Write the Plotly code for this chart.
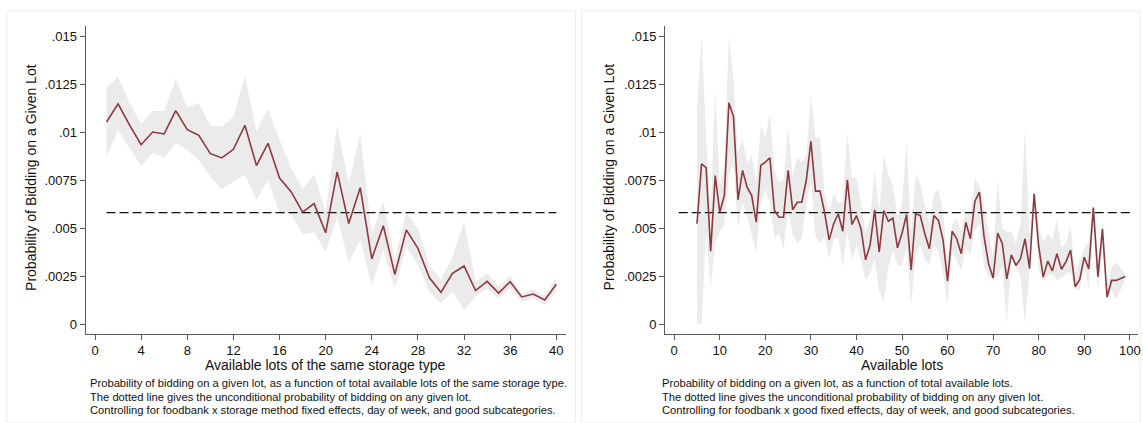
import plotly.graph_objects as go

# ---------------- data ----------------
# Left panel: available lots of the same storage type
left_x = list(range(1, 41))
left_est = [0.01052, 0.01147, 0.01036, 0.00934, 0.01000, 0.00990, 0.01111, 0.01012, 0.00983, 0.00887,
            0.00865, 0.00910, 0.01035, 0.00825, 0.00941, 0.00760, 0.00689, 0.00583, 0.00627, 0.00475,
            0.00792, 0.00523, 0.00710, 0.00339, 0.00512, 0.00259, 0.00490, 0.00394, 0.00241, 0.00165,
            0.00264, 0.00302, 0.00174, 0.00222, 0.00161, 0.00220, 0.00141, 0.00156, 0.00125, 0.00207]
left_hi = [0.01231, 0.01288, 0.01153, 0.01042, 0.01109, 0.01109, 0.01276, 0.01130, 0.01151, 0.01031,
           0.01028, 0.01080, 0.01295, 0.01003, 0.01123, 0.00958, 0.00814, 0.00705, 0.00778, 0.00585,
           0.01035, 0.00733, 0.00990, 0.00472, 0.00637, 0.00342, 0.00580, 0.00498, 0.00307, 0.00229,
           0.00350, 0.00533, 0.00220, 0.00264, 0.00194, 0.00255, 0.00156, 0.00181, 0.00146, 0.00243]
left_lo = [0.00868, 0.01010, 0.00915, 0.00823, 0.00892, 0.00866, 0.00944, 0.00906, 0.00854, 0.00767,
           0.00702, 0.00741, 0.00776, 0.00646, 0.00750, 0.00577, 0.00573, 0.00469, 0.00476, 0.00377,
           0.00559, 0.00319, 0.00438, 0.00203, 0.00385, 0.00186, 0.00403, 0.00307, 0.00168, 0.00108,
           0.00168, 0.00073, 0.00142, 0.00186, 0.00134, 0.00186, 0.00116, 0.00134, 0.00099, 0.00168]

# Right panel: available lots
right_x = list(range(5, 98)) + [99]
right_est = [0.00522, 0.00834, 0.00814, 0.00379, 0.00773, 0.00582, 0.00669, 0.01152, 0.01081, 0.00647,
             0.00800, 0.00713, 0.00669, 0.00530, 0.00826, 0.00843, 0.00866, 0.00591, 0.00556, 0.00556,
             0.00800, 0.00595, 0.00634, 0.00634, 0.00750, 0.00952, 0.00692, 0.00692, 0.00582, 0.00438,
             0.00522, 0.00574, 0.00483, 0.00751, 0.00518, 0.00565, 0.00496, 0.00334, 0.00412, 0.00595,
             0.00374, 0.00591, 0.00535, 0.00551, 0.00397, 0.00473, 0.00570, 0.00282, 0.00574, 0.00565,
             0.00470, 0.00392, 0.00565, 0.00539, 0.00438, 0.00223, 0.00483, 0.00444, 0.00366, 0.00530,
             0.00444, 0.00640, 0.00687, 0.00456, 0.00314, 0.00239, 0.00473, 0.00420, 0.00235, 0.00360,
             0.00305, 0.00340, 0.00444, 0.00289, 0.00678, 0.00405, 0.00244, 0.00328, 0.00277, 0.00366,
             0.00285, 0.00325, 0.00385, 0.00194, 0.00231, 0.00348, 0.00287, 0.00606, 0.00247, 0.00496,
             0.00140, 0.00227, 0.00227, 0.00247]
right_hi = [0.0111, 0.0150, 0.0097, 0.0060, 0.0122, 0.0072, 0.0083, 0.0150, 0.0128, 0.0089,
            0.0097, 0.0084, 0.0088, 0.0074, 0.0103, 0.0097, 0.0110, 0.0080, 0.0074, 0.0075,
            0.0102, 0.0077, 0.0087, 0.0084, 0.0088, 0.0119, 0.0097, 0.0097, 0.0068, 0.0058,
            0.0068, 0.0063, 0.0064, 0.0100, 0.0076, 0.0076, 0.0063, 0.0048, 0.0055, 0.0080,
            0.0058, 0.0088, 0.0078, 0.0072, 0.0056, 0.0063, 0.0094, 0.0048, 0.0078, 0.0073,
            0.0062, 0.0052, 0.0068, 0.0070, 0.0058, 0.0034, 0.0052, 0.0055, 0.0048, 0.0059,
            0.0057, 0.0076, 0.0072, 0.0061, 0.0048, 0.0035, 0.0075, 0.0050, 0.0048, 0.0048,
            0.0042, 0.0052, 0.0102, 0.0045, 0.0070, 0.0050, 0.0043, 0.0047, 0.0044, 0.0054,
            0.0040, 0.0042, 0.0051, 0.0027, 0.0033, 0.0039, 0.0043, 0.0062, 0.0036, 0.0050,
            0.0020, 0.0030, 0.0032, 0.0026]
right_lo = [0.0000, 0.0000, 0.0048, 0.0019, 0.0042, 0.0048, 0.0052, 0.0078, 0.0083, 0.0050,
            0.0063, 0.0056, 0.0047, 0.0037, 0.0063, 0.0070, 0.0063, 0.0045, 0.0047, 0.0039,
            0.0059, 0.0047, 0.0042, 0.0045, 0.0062, 0.0074, 0.0046, 0.0042, 0.0046, 0.0034,
            0.0044, 0.0045, 0.0030, 0.0048, 0.0033, 0.0041, 0.0033, 0.0023, 0.0026, 0.0034,
            0.0017, 0.0011, 0.0030, 0.0038, 0.0031, 0.0030, 0.0040, 0.0010, 0.0036, 0.0041,
            0.0033, 0.0031, 0.0041, 0.0038, 0.0026, 0.0010, 0.0038, 0.0033, 0.0028, 0.0040,
            0.0036, 0.0049, 0.0052, 0.0030, 0.0024, 0.0024, 0.0025, 0.0030, 0.0000, 0.0033,
            0.0030, 0.0025, 0.0000, 0.0028, 0.0062, 0.0028, 0.0022, 0.0025, 0.0026, 0.0023,
            0.0024, 0.0026, 0.0027, 0.0018, 0.0018, 0.0030, 0.0018, 0.0052, 0.0018, 0.0040,
            0.0012, 0.0018, 0.0013, 0.0023]

unconditional_prob = 0.0058
left_dash_x = [1, 40]
right_dash_x = [1, 100]

y_tickvals = [0, 0.0025, 0.005, 0.0075, 0.01, 0.0125, 0.015]
y_ticktext = ["0", ".0025", ".005", ".0075", ".01", ".0125", ".015"]
left_xticks = list(range(0, 41, 4))
right_xticks = list(range(0, 101, 10))

y_title = "Probability of Bidding on a Given Lot"
left_xtitle = "Available lots of the same storage type"
right_xtitle = "Available lots"
left_note = ["Probability of bidding on a given lot, as a function of total available lots of the same storage type.",
             "The dotted line gives the unconditional probability of bidding on any given lot.",
             "Controlling for foodbank x storage method fixed effects, day of week, and good subcategories."]
right_note = ["Probability of bidding on a given lot, as a function of total available lots.",
              "The dotted line gives the unconditional probability of bidding on any given lot.",
              "Controlling for foodbank x good fixed effects, day of week, and good subcategories."]

# ---------------- style ----------------
W, H = 1143, 423
FONT = "Liberation Sans, Arial, Helvetica, sans-serif"
LINE_COLOR = "#8c3a3e"
BAND_COLOR = "#ebebeb"
AXIS_COLOR = "#5a5a5a"

fig = go.Figure()

def add_panel(xs, est, hi, lo, dash_x, xa, ya):
    fig.add_trace(go.Scatter(x=xs + xs[::-1], y=hi + lo[::-1], fill="toself",
                             fillcolor=BAND_COLOR, line=dict(width=0), mode="lines",
                             hoverinfo="skip", showlegend=False, xaxis=xa, yaxis=ya))
    fig.add_trace(go.Scatter(x=dash_x, y=[unconditional_prob] * len(dash_x), mode="lines",
                             line=dict(color="#111111", width=1.4, dash="9px,4px"),
                             showlegend=False, xaxis=xa, yaxis=ya))
    fig.add_trace(go.Scatter(x=xs, y=est, mode="lines", line=dict(color=LINE_COLOR, width=1.6),
                             showlegend=False, xaxis=xa, yaxis=ya))

add_panel(left_x, left_est, left_hi, left_lo, left_dash_x, "x", "y")
add_panel(right_x, right_est, right_hi, right_lo, right_dash_x, "x2", "y2")

def px_x(p):
    return p / W

def px_y(p):
    return 1 - p / H

y_dom = [px_y(333.5), px_y(26)]
y_range = [(324 - 333.5) / 19200, (324 - 26) / 19200]

axis_common = dict(showline=True, linecolor=AXIS_COLOR, linewidth=1.3, ticks="outside",
                   ticklen=5, tickwidth=1.2, tickcolor=AXIS_COLOR, showgrid=False,
                   zeroline=False, tickfont=dict(family=FONT, size=13, color="#111111"),
                   ticklabeloverflow="allow", fixedrange=True)

fig.update_layout(
    width=W, height=H,
    margin=dict(l=0, r=0, t=0, b=0),
    paper_bgcolor="white", plot_bgcolor="white",
    xaxis=dict(domain=[px_x(86), px_x(567)], range=[-0.8, 40.8], tickmode="array",
               tickvals=left_xticks, anchor="y", **axis_common),
    yaxis=dict(domain=y_dom, range=y_range, tickmode="array", tickvals=y_tickvals,
               ticktext=y_ticktext, anchor="x", **axis_common),
    xaxis2=dict(domain=[px_x(667), px_x(1141)], range=[-1.97, 101.8], tickmode="array",
                tickvals=right_xticks, anchor="y2", **axis_common),
    yaxis2=dict(domain=y_dom, range=y_range, tickmode="array", tickvals=y_tickvals,
                ticktext=y_ticktext, anchor="x2", **axis_common),
)

annotations = []
# axis titles
for cx in (31, 611):
    annotations.append(dict(text=y_title, x=px_x(cx), y=px_y(177), xref="paper", yref="paper",
                            textangle=-90, showarrow=False, xanchor="center", yanchor="middle",
                            font=dict(family=FONT, size=14, color="#111111")))
annotations.append(dict(text=left_xtitle, x=px_x(326), y=px_y(365), xref="paper", yref="paper",
                        showarrow=False, xanchor="center", yanchor="middle",
                        font=dict(family=FONT, size=14, color="#111111")))
annotations.append(dict(text=right_xtitle, x=px_x(904), y=px_y(365), xref="paper", yref="paper",
                        showarrow=False, xanchor="center", yanchor="middle",
                        font=dict(family=FONT, size=14, color="#111111")))
# notes, one line each
for note, nx in ((left_note, 88), (right_note, 662)):
    for i, line in enumerate(note):
        annotations.append(dict(text=line, x=px_x(nx), y=px_y(383 + 13.5 * i), xref="paper", yref="paper",
                                showarrow=False, xanchor="left", yanchor="middle", align="left",
                                font=dict(family=FONT, size=11.2, color="#111111")))
fig.update_layout(annotations=annotations)

# faint panel frames
fig.update_layout(shapes=[
    dict(type="rect", xref="paper", yref="paper", x0=px_x(7), x1=px_x(577), y0=px_y(423), y1=px_y(11),
         line=dict(color="#eeeeee", width=1), layer="below"),
    dict(type="rect", xref="paper", yref="paper", x0=px_x(583), x1=px_x(1143), y0=px_y(423), y1=px_y(11),
         line=dict(color="#eeeeee", width=1), layer="below"),
])

fig.write_html("out.html")
